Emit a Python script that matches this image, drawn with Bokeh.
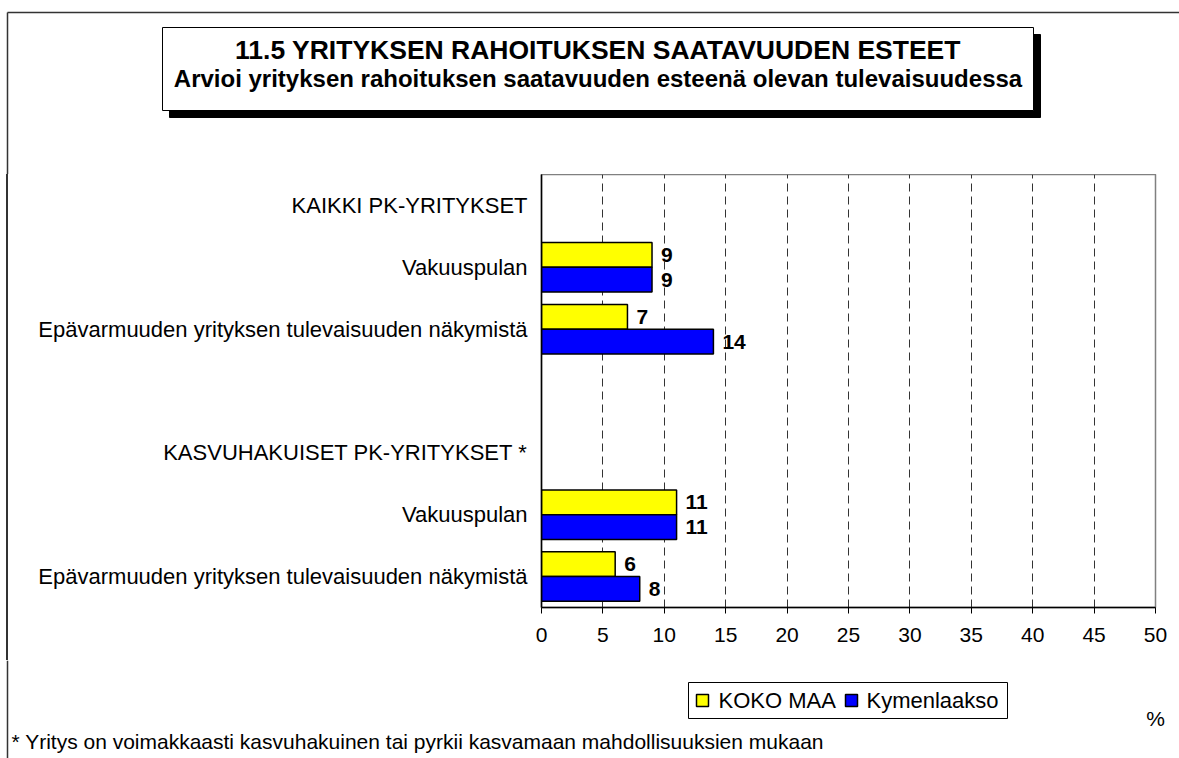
from bokeh.plotting import figure
from bokeh.layouts import column, row
from bokeh.models import Range1d, FixedTicker, ColumnDataSource
from bokeh.core.properties import value
from bokeh.embed import file_html
from bokeh.resources import INLINE

# ---- data (top to bottom) ----
categories = ["KAIKKI PK-YRITYKSET",
              "Vakuuspulan",
              "Epävarmuuden yrityksen tulevaisuuden näkymistä",
              "",
              "KASVUHAKUISET PK-YRITYKSET *",
              "Vakuuspulan",
              "Epävarmuuden yrityksen tulevaisuuden näkymistä"]
koko_maa = [None, 9, 7, None, None, 11, 6]
kymenlaakso = [None, 9, 14, None, None, 11, 8]
series_names = ["KOKO MAA", "Kymenlaakso"]
series_colors = ["#FFFF00", "#0000FF"]
x_ticks = [0, 5, 10, 15, 20, 25, 30, 35, 40, 45, 50]
title1 = "11.5 YRITYKSEN RAHOITUKSEN SAATAVUUDEN ESTEET"
title2 = "Arvioi yrityksen rahoituksen saatavuuden esteenä olevan tulevaisuudessa"
footnote = "* Yritys on voimakkaasti kasvuhakuinen tai pyrkii kasvamaan mahdollisuuksien mukaan"
unit_label = "%"

FONT = "Liberation Sans"
BORDER = "#333333"
W = 1179
H_TOP, H_MID, H_BOT = 174, 486, 98
BOT_B = 53            # space under the plot frame for the x axis
BX = 7                # outer border x position

n = len(categories)
pos = [n - i - 0.5 for i in range(n)]


def deco_fig(w, h):
    f = figure(width=w, height=h, output_backend="svg", toolbar_location=None,
               x_range=Range1d(0, w), y_range=Range1d(h, 0),
               x_axis_location=None, y_axis_location=None, min_border=0)
    f.outline_line_color = None
    f.grid.visible = False
    f.background_fill_color = "white"
    f.border_fill_color = "white"
    return f


# ---------------- top: outer border + title box ----------------
top = deco_fig(W, H_TOP)
top.segment(x0=[BX, BX], y0=[12, 12], x1=[W, BX], y1=[12, H_TOP], line_color=BORDER, line_width=1.5)
top.quad(left=169, right=1040, top=34, bottom=117, fill_color="black", line_color="black")
top.quad(left=162, right=1033, top=27, bottom=110, fill_color="white", line_color="black", line_width=1)
top.text(x=[597.5], y=[49], text=[title1], text_align="center", text_baseline="middle",
         text_font=value(FONT), text_font_style="bold", text_font_size="26.5px", text_color="black")
top.text(x=[597.5], y=[78], text=[title2], text_align="center", text_baseline="middle",
         text_font=value(FONT), text_font_style="bold", text_font_size="24px", text_color="black")

# ---------------- middle: chart ----------------
p = figure(width=W, height=H_MID, output_backend="svg", toolbar_location=None,
           x_range=Range1d(0, 50), y_range=Range1d(0, n),
           min_border_left=541, min_border_right=24, min_border_top=0, min_border_bottom=BOT_B)
p.outline_line_color = "#808080"
p.outline_line_width = 1.5
p.background_fill_color = "white"
p.border_fill_color = "white"
p.border_fill_alpha = 0
# outer border line on the left side of this band (page background behind the transparent border)
p.styles = {"background": "linear-gradient(to right, #ffffff 6.3px, %s 6.3px, %s 7.8px, #ffffff 7.8px)"
            % (BORDER, BORDER)}


def rows(vals, shift):
    ys, xs, ts = [], [], []
    for y, v in zip(pos, vals):
        if v is not None:
            ys.append(y + shift)
            xs.append(v)
            ts.append(str(v))
    return ColumnDataSource(dict(y=ys, x=xs, t=ts))


src_k = rows(koko_maa, 0.2)
src_y = rows(kymenlaakso, -0.2)

p.hbar(y="y", right="x", left=0, height=0.4, source=src_k,
       fill_color=series_colors[0], line_color="black", line_width=1.5)
p.hbar(y="y", right="x", left=0, height=0.4, source=src_y,
       fill_color=series_colors[1], line_color="black", line_width=1.5)

for s in (src_k, src_y):
    p.text(x="x", y="y", text="t", source=s, x_offset=9, text_align="left",
           text_baseline="middle", text_font=value(FONT), text_font_style="bold",
           text_font_size="21px", text_color="black")

xa = p.xaxis[0]
xa.ticker = FixedTicker(ticks=x_ticks)
xa.axis_line_color = "black"
xa.axis_line_width = 1.5
xa.major_tick_out = 6
xa.major_tick_in = 0
xa.minor_tick_line_color = None
xa.major_label_text_font = FONT
xa.major_label_text_font_size = "21px"
xa.major_label_text_color = "black"
xa.major_label_standoff = 14

ya = p.yaxis[0]
ya.ticker = FixedTicker(ticks=[y for y, c in zip(pos, categories) if c])
ya.major_label_overrides = {y: c for y, c in zip(pos, categories) if c}
ya.axis_line_color = "black"
ya.axis_line_width = 1.5
ya.major_tick_out = 0
ya.major_tick_in = 0
ya.minor_tick_line_color = None
ya.major_label_text_font = FONT
ya.major_label_text_font_size = "22px"
ya.major_label_text_color = "black"
ya.major_label_standoff = 14

p.ygrid.grid_line_color = None
p.xgrid.ticker = FixedTicker(ticks=x_ticks[1:-1])
p.xgrid.grid_line_color = "#333333"
p.xgrid.grid_line_dash = "8 5"
p.xgrid.grid_line_width = 1

# ---------------- bottom: legend, unit, footnote ----------------
bot = deco_fig(W, H_BOT)
bot.segment(x0=[BX], y0=[0], x1=[BX], y1=[H_BOT], line_color=BORDER, line_width=1.5)
bot.quad(left=688, right=1007, top=22, bottom=58, fill_color="white", line_color="black", line_width=1)
sw_left = [696, 845]
txt_left = [718, 866]
bot.quad(left=sw_left, right=[x + 12 for x in sw_left], top=34, bottom=46,
         fill_color=series_colors, line_color="black", line_width=1.5)
bot.text(x=txt_left, y=[40, 40], text=series_names, text_align="left", text_baseline="middle",
         text_font=value(FONT), text_font_size="22px", text_color="black")
bot.text(x=[1155], y=[58], text=[unit_label], text_align="center", text_baseline="middle",
         text_font=value(FONT), text_font_size="21px", text_color="black")
bot.text(x=[11], y=[81], text=[footnote], text_align="left", text_baseline="middle",
         text_font=value(FONT), text_font_size="21px", text_color="black")

layout = column(top, row(p, spacing=0), bot, spacing=0)
open("out.html", "w").write(file_html(layout, INLINE))
